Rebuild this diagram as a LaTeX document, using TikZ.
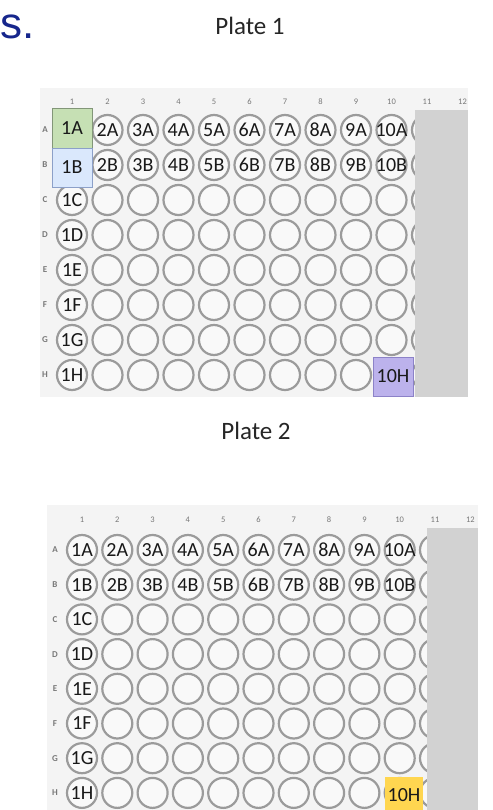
\documentclass[tikz,border=0pt]{standalone}
\usepackage{fontspec}
\setmainfont{Carlito}
\newfontfamily\arialf{Liberation Sans}
\definecolor{navy}{RGB}{22,38,140}
\definecolor{platebg}{RGB}{244,244,244}
\definecolor{sidegray}{RGB}{210,210,210}
\definecolor{wellgray}{RGB}{155,155,155}
\definecolor{wellfill}{RGB}{249,249,249}
\definecolor{labtext}{RGB}{25,25,25}
\definecolor{smallgray}{RGB}{120,120,120}
\definecolor{greenfill}{RGB}{198,224,180}
\definecolor{greenline}{RGB}{130,150,120}
\definecolor{bluefill}{RGB}{218,232,252}
\definecolor{blueline}{RGB}{140,160,200}
\definecolor{purplefill}{RGB}{188,178,236}
\definecolor{purpleline}{RGB}{140,130,200}
\definecolor{yellowfill}{RGB}{255,214,80}
\begin{document}
\begin{tikzpicture}[x=1pt,y=-1pt,
  well/.style={circle,draw=wellgray,line width=2.2pt,minimum size=30pt,inner sep=0pt,fill=wellfill},
  lab/.style={font=\fontsize{20}{20}\selectfont,text=labtext,inner sep=0pt},
  colnum/.style={font=\fontsize{8.5}{8.5}\selectfont,text=smallgray,inner sep=0pt},
  rowlet/.style={font=\bfseries\fontsize{9}{9}\selectfont,text=smallgray,inner sep=0pt},
  markbox/.style={rectangle,line width=0.8pt,minimum width=40pt,minimum height=39pt,inner sep=0pt,font=\fontsize{20}{20}\selectfont,text=labtext},
  title/.style={font=\fontsize{25}{25}\selectfont,text=black!85,inner sep=0pt}]
\useasboundingbox (0,0) rectangle (492,810);
\fill[white] (0,0) rectangle (492,810);

% heading fragment and titles
\node[anchor=base west,inner sep=0pt,text=navy,font=\arialf\fontsize{44}{44}\selectfont] (frag) at (0,39) {s.};
\node[title] (t1) at (250,26) {Plate 1};
\node[title] (t2) at (256,431) {Plate 2};

% ---------- Plate 1 ----------
\fill[platebg] (40,88) rectangle (468,397);
\foreach \c in {1,...,12}{
  \node[colnum] (p1n\c) at ({72+(\c-1)*35.5},102) {\c};
}
\foreach \c in {1,...,11}{
  \foreach \r [count=\i] in {A,...,H}{
    \node[well] (p1w\c\r) at ({72+(\c-1)*35.5},{130+(\i-1)*35}) {};
  }
}
\foreach \r [count=\i] in {A,...,H}{
  \node[rowlet] (p1l\r) at (45,{130+(\i-1)*35}) {\r};
}
\fill[sidegray] (415,110) rectangle (468,397);
\foreach \c in {2,...,10}{
  \node[lab] (p1tA\c) at (p1w\c A) {\c A};
  \node[lab] (p1tB\c) at (p1w\c B) {\c B};
}
\foreach \r in {C,...,H}{
  \node[lab] (p1t1\r) at (p1w1\r) {1\r};
}
\node[markbox,fill=greenfill,draw=greenline,minimum height=40pt] (p1bA) at (72,128) {1A};
\node[markbox,fill=bluefill,draw=blueline] (p1bB) at (72,167.5) {1B};
\node[markbox,fill=purplefill,draw=purpleline] (p1bH) at (393,376.5) {10H};

% ---------- Plate 2 ----------
\fill[platebg] (47,505) rectangle (478,810);
\foreach \c in {1,...,12}{
  \node[colnum] (p2n\c) at ({82+(\c-1)*35.3},520) {\c};
}
\foreach \c in {1,...,11}{
  \foreach \r [count=\i] in {A,...,H}{
    \node[well] (p2w\c\r) at ({82+(\c-1)*35.3},{550+(\i-1)*34.7}) {};
  }
}
\foreach \r [count=\i] in {A,...,H}{
  \node[rowlet] (p2l\r) at (55,{550+(\i-1)*34.7}) {\r};
}
\fill[sidegray] (427,528) rectangle (478,810);
\foreach \c in {1,...,10}{
  \node[lab] (p2tA\c) at (p2w\c A) {\c A};
  \node[lab] (p2tB\c) at (p2w\c B) {\c B};
}
\foreach \r in {C,...,H}{
  \node[lab] (p2t1\r) at (p2w1\r) {1\r};
}
\node[markbox,fill=yellowfill,draw=none,minimum width=38pt,minimum height=36pt] (p2bH) at (404,795) {10H};
\end{tikzpicture}
\end{document}
